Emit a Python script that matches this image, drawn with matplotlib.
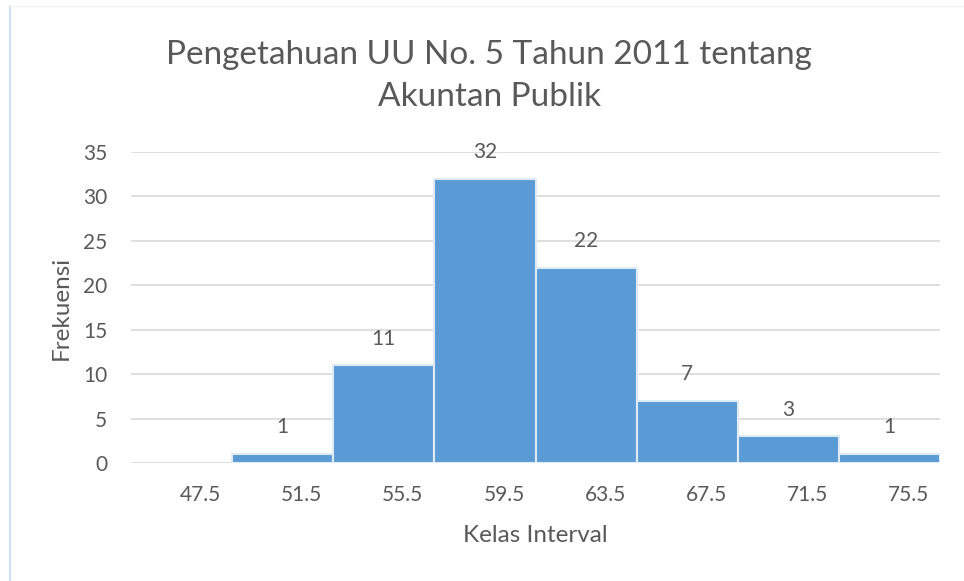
import matplotlib.pyplot as plt
import matplotlib.transforms as mtransforms
from matplotlib.lines import Line2D

kelas = ["47.5", "51.5", "55.5", "59.5", "63.5", "67.5", "71.5", "75.5"]
frekuensi = [0, 1, 11, 32, 22, 7, 3, 1]

warna_teks = "#595959"
plt.rcParams["font.family"] = ["Lato", "DejaVu Sans"]

fig = plt.figure(figsize=(9.64, 5.81), dpi=100)
ax = fig.add_axes([131 / 964, 1 - 463 / 581, (940 - 131) / 964, (463 - 152) / 581])

x = range(len(kelas))
bars = ax.bar(x, frekuensi, width=1.0, color="#5B9BD5",
              edgecolor="#DEEBF7", linewidth=1.5, zorder=3)

# label nilai di atas batang (nilai 0 tidak ditampilkan)
for b, v in zip(bars, frekuensi):
    if v == 0:
        b.set_linewidth(0)
        continue
    ax.annotate(str(v), (b.get_x() + b.get_width() / 2, v),
                xytext=(0, 12), textcoords="offset points",
                ha="center", va="bottom", fontsize=15, color=warna_teks)

ax.set_xlim(-0.5, len(kelas) - 0.5)
ax.set_ylim(0, 35)
ax.set_yticks(range(0, 36, 5))
ax.set_xticks(list(x))
ax.set_xticklabels(kelas)
ax.grid(axis="y", color="#D9D9D9", linewidth=1.2, zorder=0)
for s in ax.spines.values():
    s.set_visible(False)
ax.tick_params(length=0, labelsize=15, labelcolor=warna_teks)
ax.tick_params(axis="x", pad=16)
ax.tick_params(axis="y", pad=17)

# geser label sumbu x sedikit ke kanan seperti di gambar asli
geser = mtransforms.ScaledTranslation(19 / 100, 0, fig.dpi_scale_trans)
for lbl in ax.get_xticklabels():
    lbl.set_transform(lbl.get_transform() + geser)

ax.set_xlabel("Kelas Interval", fontsize=17.5, color=warna_teks, labelpad=14)
ax.set_ylabel("Frekuensi", fontsize=17.5, color=warna_teks, labelpad=8)

fig.text(489 / 964, 1 - 76 / 581, "Pengetahuan UU No. 5 Tahun 2011 tentang\nAkuntan Publik",
         ha="center", va="center", fontsize=24, color=warna_teks, linespacing=1.5)

# bingkai grafik
fig.add_artist(Line2D([10 / 964, 10 / 964], [0, 1 - 6 / 581], color="#C5D9F1", linewidth=1.2))
fig.add_artist(Line2D([10 / 964, 1], [1 - 6 / 581, 1 - 6 / 581], color="#F2F2F2", linewidth=1.0))

fig.savefig("out.png", dpi=100)
